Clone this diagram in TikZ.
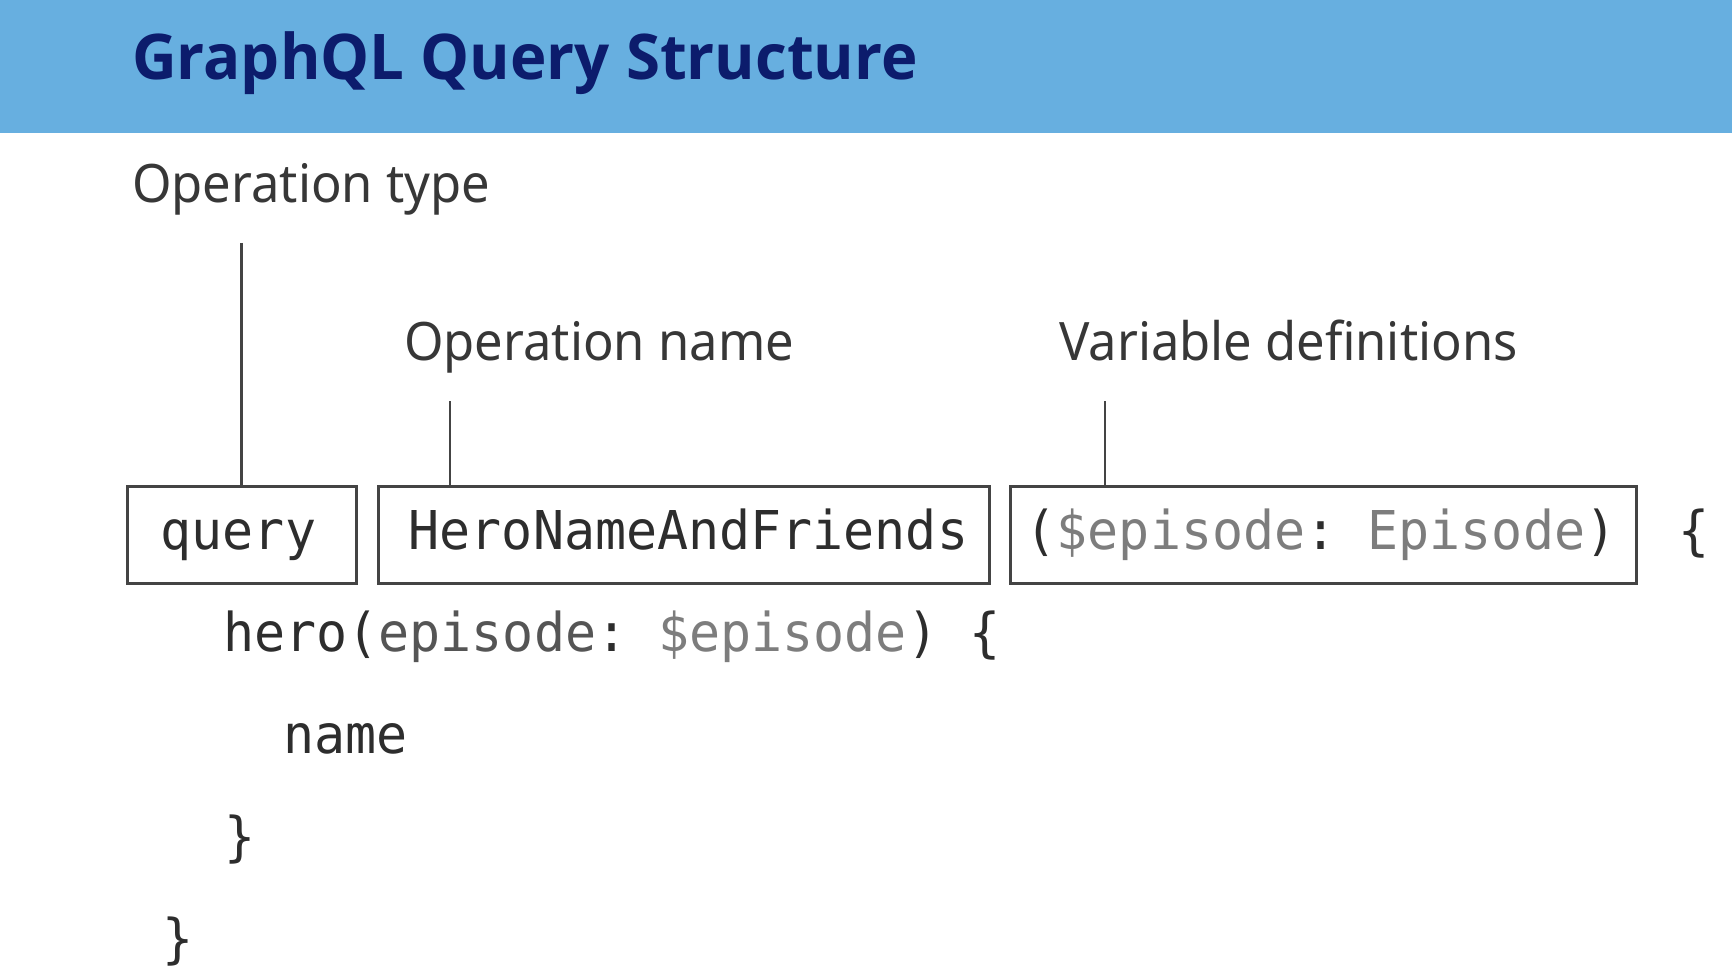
\documentclass[tikz,border=0pt]{standalone}
\usepackage{graphicx}
\usepackage{fontspec}
\setmainfont{Noto Sans}
\newfontfamily\titlefont{Open Sans}
\newfontfamily\labelfont{Noto Sans}
\newfontfamily\codefont{DejaVu Sans Mono}
\definecolor{bandblue}{RGB}{103,175,224}
\definecolor{titlenavy}{RGB}{12,28,108}
\definecolor{labelgray}{RGB}{55,55,55}
\definecolor{linegray}{RGB}{68,68,68}
\definecolor{cdark}{RGB}{45,45,45}
\definecolor{cmid}{RGB}{85,85,85}
\definecolor{clight}{RGB}{125,125,125}
\newcommand{\codetxt}[1]{\scalebox{0.965}[1]{\codefont\fontsize{53.5}{60}\selectfont #1}}
\newcommand{\labeltxt}[1]{\scalebox{0.956}[1]{\labelfont\fontsize{53}{60}\selectfont #1}}
\begin{document}
\begin{tikzpicture}[x=1pt,y=-1pt,
  lbl/.style={anchor=base west,inner sep=0pt,text=labelgray},
  code/.style={anchor=base west,inner sep=0pt,text=cdark},
  partbox/.style={draw=linegray,line width=3pt,minimum height=97pt,inner sep=0pt,fill=none},
  pointer/.style={draw=linegray,line width=2.6pt}]
\useasboundingbox (0,0) rectangle (1732,976);
\fill[white] (0,0) rectangle (1732,976);
\fill[bandblue] (0,0) rectangle (1732,133);
\node[anchor=base west,inner sep=0pt,text=titlenavy] (title) at (132,80)
  {\scalebox{0.98}[1]{\titlefont\bfseries\fontsize{63}{70}\selectfont GraphQL Query Structure}};
% labels
\node[lbl] (ltype) at (132,203) {\labeltxt{Operation type}};
\node[lbl] (lname) at (404,360) {\labeltxt{Operation name}};
\node[lbl] (lvars) at (1059,360) {\labeltxt{Variable definitions}};
% boxes
\node[partbox,minimum width=229pt] (b1) at (241.5,534.5) {};
\node[partbox,minimum width=611pt] (b2) at (683.5,534.5) {};
\node[partbox,minimum width=626pt] (b3) at (1323,534.5) {};
% box texts
\node[code] (tq) at (160.5,549) {\codetxt{query}};
\node[code] (th) at (408.5,549) {\codetxt{HeroNameAndFriends}};
\node[code] (tv) at (1025.5,549) {\codetxt{(\textcolor{clight}{\$episode}:\ \textcolor{clight}{Episode})}};
\node[code] (tb) at (1678,549) {\codetxt{\{}};
% code lines
\node[code] (l2) at (223,651) {\codetxt{hero(\textcolor{cmid}{episode}:\ \textcolor{clight}{\$episode})\ \{}};
\node[code] (l3) at (283.5,753) {\codetxt{name}};
\node[code] (l4) at (224,855) {\codetxt{\}}};
\node[code] (l5) at (162.5,957) {\codetxt{\}}};
% pointers
\coordinate (p1) at (241.5,243);
\coordinate (p2) at (450,401);
\coordinate (p3) at (1105,401);
\draw[pointer] (p1) -- (b1.north);
\draw[pointer] (p2) -- (p2 |- b2.north);
\draw[pointer] (p3) -- (p3 |- b3.north);
\end{tikzpicture}
\end{document}
